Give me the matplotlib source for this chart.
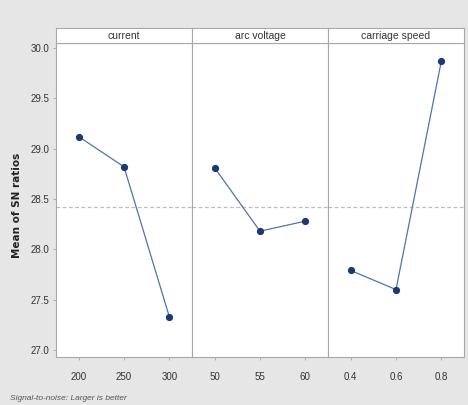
import matplotlib
matplotlib.use("Agg")
import matplotlib.pyplot as plt
import numpy as np

# main effects for SN ratios (larger is better)
factors = ["current", "arc voltage", "carriage speed"]
levels = [["200", "250", "300"], ["50", "55", "60"], ["0.4", "0.6", "0.8"]]
sn_means = [[29.12, 28.82, 27.33], [28.81, 28.18, 28.28], [27.79, 27.60, 29.87]]
y_ticks = [27.0, 27.5, 28.0, 28.5, 29.0, 29.5, 30.0]

grand_mean = np.mean(sn_means)
bg = "#e6e6e6"
edge = "#a8a8a8"
font = ["Liberation Sans", "DejaVu Sans"]

fig = plt.figure(figsize=(4.68, 4.05), dpi=100, facecolor=bg)
W, H = 468, 405
x0, x1 = 56, 464
ytop, ybot, yhead = 43, 357, 28
pw = (x1 - x0) / 3

for i, name in enumerate(factors):
    left = (x0 + i * pw) / W
    ax = fig.add_axes([left, 1 - ybot / H, pw / W, (ybot - ytop) / H])
    ax.set_facecolor("white")
    x = np.arange(1, 4)
    ax.plot(x, sn_means[i], color="#4f74b0", lw=0.9, zorder=3)
    ax.plot(x, sn_means[i], "o", color="#1d3a70", ms=4.2, zorder=4)
    ax.axhline(grand_mean, color="#bdbdbd", lw=0.9, ls=(0, (3, 2)), zorder=1)
    ax.set_xlim(0.5, 3.5)
    ax.set_ylim(26.93, 30.05)
    ax.set_xticks(x)
    ax.set_xticklabels(levels[i], family=font, fontsize=7, color="#333333")
    ax.set_yticks(y_ticks)
    if i == 0:
        ax.set_yticklabels([f"{t:.1f}" for t in y_ticks], family=font,
                           fontsize=7, color="#333333")
    else:
        ax.tick_params(axis="y", left=False, labelleft=False)
    ax.tick_params(axis="y", length=2.5, width=0.6, color=edge, pad=2)
    ax.tick_params(axis="x", length=2.5, width=0.6, color=edge, pad=8)
    for s in ax.spines.values():
        s.set_color(edge)
        s.set_linewidth(0.8)

    # header strip
    hx = fig.add_axes([left, 1 - ytop / H, pw / W, (ytop - yhead) / H])
    hx.set_facecolor("white")
    hx.set_xticks([]); hx.set_yticks([])
    for s in hx.spines.values():
        s.set_color(edge)
        s.set_linewidth(0.8)
    hx.text(0.5, 0.45, name, ha="center", va="center", family=font,
            fontsize=7.5, color="#333333", transform=hx.transAxes)

fig.text(17 / W, 1 - 205 / H, "Mean of SN ratios", rotation=90, ha="center",
         va="center", fontsize=7.5, fontweight="bold", color="#222222")
fig.text(10 / W, 1 - 398 / H, "Signal-to-noise: Larger is better", ha="left",
         va="center", family=font, fontsize=6, style="italic", color="#555555")

fig.savefig("out.png", dpi=100, facecolor=bg)
